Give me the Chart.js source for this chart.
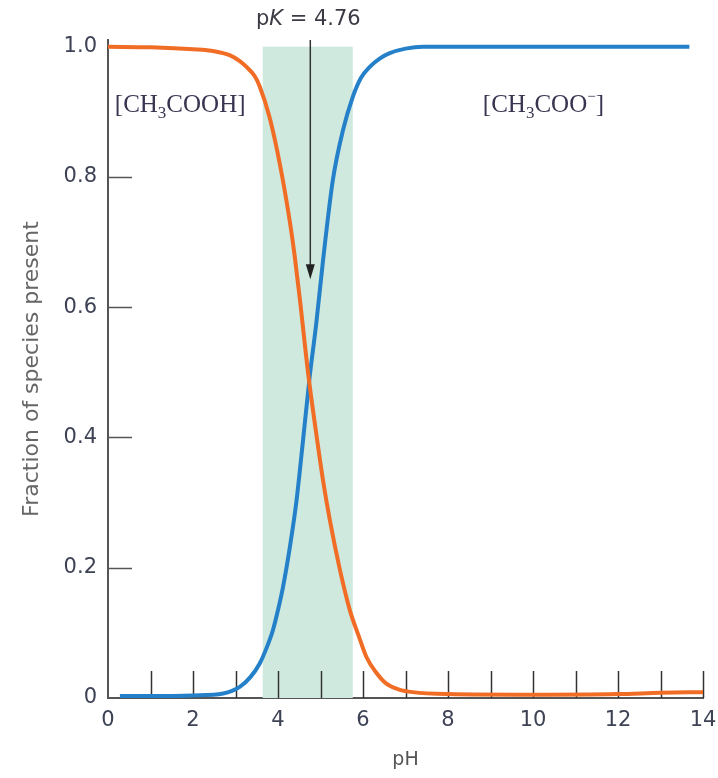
<!DOCTYPE html>
<html><head><meta charset="utf-8">
<script src="https://cdn.jsdelivr.net/npm/chart.js@4.4.1/dist/chart.umd.min.js"></script>
<style>html,body{margin:0;padding:0;background:#fff}canvas{display:block}</style>
</head><body>
<canvas id="c" width="718" height="778"></canvas>
<script>
// ---- data ----
const pHAcid = [0, 1, 2, 2.5, 2.86, 3.1, 3.26, 3.45, 3.57, 3.8, 4.04, 4.27, 4.39, 4.51, 4.71, 4.9, 5.06, 5.22, 5.46, 5.69, 5.9, 6.08, 6.3, 6.55, 6.85, 7.17, 8, 10, 12, 13, 14];
const acidFraction = [1.0, 0.999, 0.996, 0.993, 0.987, 0.978, 0.969, 0.955, 0.939, 0.892, 0.821, 0.735, 0.68, 0.615, 0.498, 0.406, 0.334, 0.273, 0.196, 0.135, 0.095, 0.063, 0.04, 0.022, 0.013, 0.009, 0.006, 0.005, 0.006, 0.008, 0.009];
const pHBase = [0.28, 1, 2, 2.71, 3.1, 3.35, 3.57, 3.75, 3.88, 4.0, 4.12, 4.28, 4.43, 4.58, 4.74, 4.9, 5.06, 5.29, 5.53, 5.76, 5.95, 6.16, 6.4, 6.63, 7.0, 7.41, 10, 12, 13.68];
const baseFraction = [0.003, 0.003, 0.004, 0.007, 0.017, 0.032, 0.053, 0.08, 0.104, 0.135, 0.171, 0.232, 0.30, 0.39, 0.49, 0.575, 0.672, 0.795, 0.872, 0.923, 0.952, 0.969, 0.982, 0.99, 0.997, 1.0, 1.0, 1.0, 1.0];
const yTickValues = [0, 0.2, 0.4, 0.6, 0.8, 1.0];
const yTickLabels = ['0', '0.2', '0.4', '0.6', '0.8', '1.0'];
const xMinorTicks = [1, 2, 3, 4, 5, 6, 7, 8, 9, 10, 11, 12, 13, 14];
const pK = 4.76;
const pKLabel = '4.76';
const bufferBand = [3.64, 5.76];
const acidLabel = ['[CH', '3', 'COOH]'];
const baseLabel = ['[CH', '3', 'COO', '\u2212', ']'];

const ORANGE = 'rgb(241,108,36)';
const BLUE = 'rgb(36,128,201)';
const SANS = '"DejaVu Sans", sans-serif';
const SERIF = '"Liberation Serif", "DejaVu Serif", serif';

const toXY = (xs, ys) => xs.map((x, i) => ({x, y: ys[i]}));

const overlay = {
  id: 'overlay',
  beforeDatasetsDraw(chart) {
    const {ctx, scales: {x, y}} = chart;
    ctx.save();
    ctx.fillStyle = 'rgb(207,233,223)';
    const x0 = x.getPixelForValue(bufferBand[0]), x1 = x.getPixelForValue(bufferBand[1]);
    const yt = y.getPixelForValue(1.0), yb = y.getPixelForValue(0);
    ctx.fillRect(x0, yt, x1 - x0, yb - yt);
    ctx.lineWidth = 1.5;
    ctx.strokeStyle = '#333';
    xMinorTicks.forEach(v => {
      const px = Math.round(x.getPixelForValue(v)) + 0.5;
      ctx.beginPath(); ctx.moveTo(px, yb); ctx.lineTo(px, yb - 27); ctx.stroke();
    });
    ctx.strokeStyle = '#555';
    yTickValues.slice(1, 5).forEach(v => {
      const py = Math.round(y.getPixelForValue(v)) + 0.5;
      ctx.beginPath(); ctx.moveTo(x.left, py); ctx.lineTo(x.left + 24, py); ctx.stroke();
    });
    ctx.restore();
  },
  afterDatasetsDraw(chart) {
    const {ctx, scales: {x, y}, chartArea} = chart;
    ctx.save();
    const ax = x.getPixelForValue(pK);
    const ayTop = chartArea.top;
    const ayTip = y.getPixelForValue(0.643);
    ctx.strokeStyle = '#333'; ctx.fillStyle = '#222'; ctx.lineWidth = 1.5;
    ctx.beginPath(); ctx.moveTo(ax, ayTop); ctx.lineTo(ax, ayTip - 12); ctx.stroke();
    ctx.beginPath(); ctx.moveTo(ax - 4.5, ayTip - 15); ctx.lineTo(ax + 4.5, ayTip - 15); ctx.lineTo(ax, ayTip); ctx.closePath(); ctx.fill();
    ctx.fillStyle = '#3b3b46';
    ctx.textBaseline = 'middle';
    const f1 = '21px ' + SANS, f1i = 'italic 21px ' + SANS;
    const parts = [['p', f1], ['K', f1i], [' = ' + pKLabel, f1]];
    let w = 0;
    parts.forEach(([t, f]) => { ctx.font = f; w += ctx.measureText(t).width; });
    let cx = ax - w / 2 - 2;
    const cy = chartArea.top - 20;
    parts.forEach(([t, f]) => { ctx.font = f; ctx.textAlign = 'left'; ctx.fillText(t, cx, cy); cx += ctx.measureText(t).width; });
    const drawChem = (segs, pH, val) => {
      let px = x.getPixelForValue(pH);
      const base = y.getPixelForValue(val);
      ctx.fillStyle = '#3a3450';
      ctx.textBaseline = 'alphabetic';
      ctx.textAlign = 'left';
      segs.forEach((t) => {
        let dy = 0, f = '25px ' + SERIF;
        if (t === '3') { f = '17px ' + SERIF; dy = 6; }
        else if (t === '\u2212') { f = '15px ' + SERIF; dy = -11; }
        ctx.font = f;
        ctx.fillText(t, px, base + dy);
        px += ctx.measureText(t).width;
      });
    };
    drawChem(acidLabel, 0.16, 0.9);
    drawChem(baseLabel, 8.82, 0.9);
    ctx.restore();
  }
};

new Chart(document.getElementById('c'), {
  type: 'line',
  data: {
    datasets: [
      {label: 'CH3COOH', data: toXY(pHAcid, acidFraction), borderColor: ORANGE, borderWidth: 4, pointRadius: 0, cubicInterpolationMode: 'monotone', fill: false},
      {label: 'CH3COO-', data: toXY(pHBase, baseFraction), borderColor: BLUE, borderWidth: 4, pointRadius: 0, cubicInterpolationMode: 'monotone', fill: false}
    ]
  },
  options: {
    responsive: false,
    animation: false,
    devicePixelRatio: 1,
    layout: {padding: {top: 40, right: 15, left: 0, bottom: 0}},
    plugins: {legend: {display: false}, tooltip: {enabled: false}},
    scales: {
      x: {
        type: 'linear', min: 0, max: 14,
        grid: {display: false, drawTicks: false},
        border: {display: true, color: '#555', width: 2},
        ticks: {stepSize: 2, padding: 10, color: '#3d4255', font: {family: SANS, size: 21}, maxRotation: 0},
        title: {display: true, text: 'pH', color: '#555', font: {family: SANS, size: 19}, padding: {top: 0, bottom: 7}},
        afterFit(s) { s.height = 80; s.paddingRight = 0; s.paddingLeft = 0; }
      },
      y: {
        type: 'linear', min: 0, max: 1.0103,
        grid: {display: false, drawTicks: false},
        border: {display: true, color: '#555', width: 2},
        afterBuildTicks(s) { s.ticks = yTickValues.map(v => ({value: v})); },
        ticks: {padding: 11, color: '#3d4255', font: {family: SANS, size: 21},
          callback: (v) => { const i = yTickValues.findIndex(t => Math.abs(t - v) < 1e-6); return i >= 0 ? yTickLabels[i] : ''; }},
        title: {display: true, text: 'Fraction of species present', color: '#666', font: {family: SANS, size: 22}, padding: {top: 19, bottom: 0}},
        afterFit(s) { s.width = 108; s.paddingTop = 0; s.paddingBottom = 0; }
      }
    }
  },
  plugins: [overlay]
});
</script>
</body></html>
